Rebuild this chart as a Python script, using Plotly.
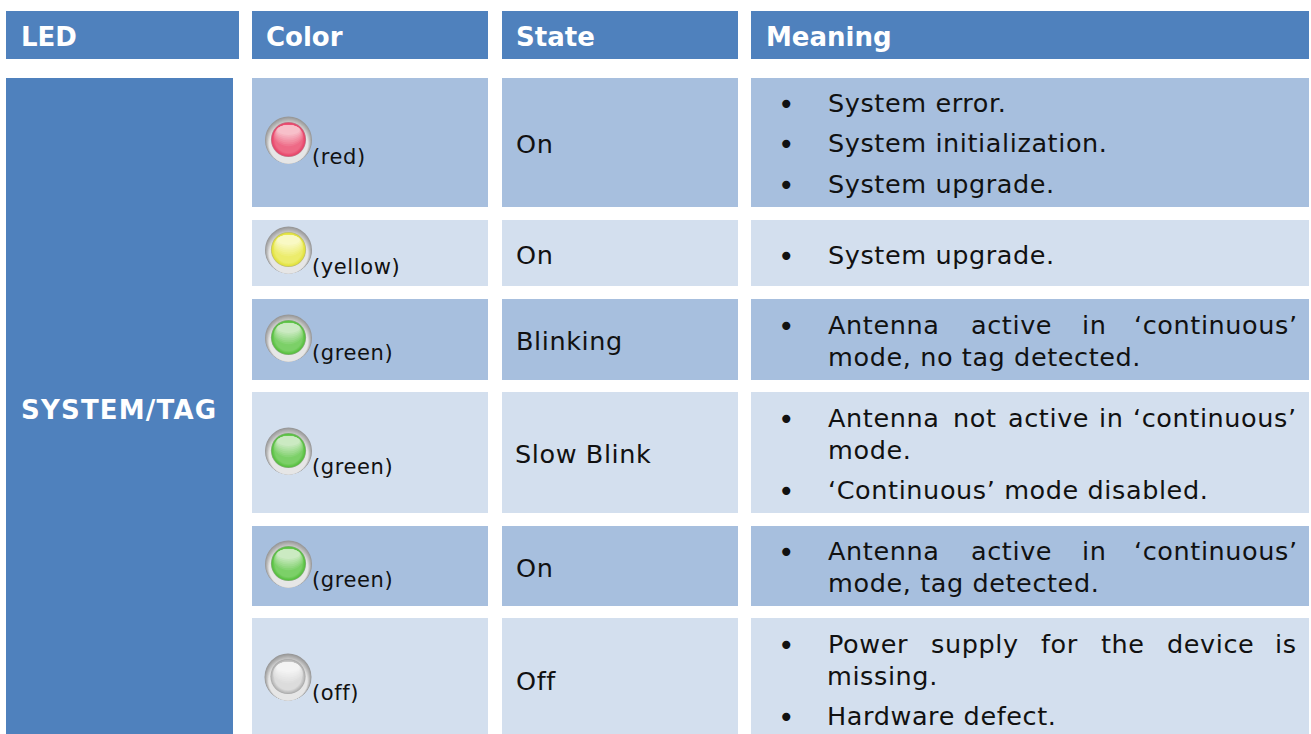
import plotly.graph_objects as go

BG_DARK = "#4F81BD"
BG_MID = "#A7BFDE"
BG_LIGHT = "#D3DFEE"
INK = "#111111"
FONT = "DejaVu Sans"

headers = ["LED", "Color", "State", "Meaning"]
group_label = "SYSTEM/TAG"
color_names = ["(red)", "(yellow)", "(green)", "(green)", "(green)", "(off)"]
states = ["On", "On", "Blinking", "Slow Blink", "On", "Off"]
meanings = [
    [["System error."], ["System initialization."], ["System upgrade."]],
    [["System upgrade."]],
    [["Antenna active in ‘continuous’", "mode, no tag detected."]],
    [["Antenna not active in ‘continuous’", "mode."], ["‘Continuous’ mode disabled."]],
    [["Antenna active in ‘continuous’", "mode, tag detected."]],
    [["Power supply for the device is", "missing."], ["Hardware defect."]],
]

# page geometry, in pixels
W, H = 1311, 734
head_y = (11, 59)
head_x = [(6, 239), (252, 488), (502, 738), (751, 1309)]
head_text_x = [21, 266, 516, 766]
led_x = (6, 233)
row_y = [(78, 207), (220, 286), (299, 380), (392, 513), (526, 606), (618, 734)]
row_fill = [BG_MID, BG_LIGHT, BG_MID, BG_LIGHT, BG_MID, BG_LIGHT]
state_x = [516, 516, 516, 515, 516, 516]
state_y = [144, 255, 341, 454, 568, 681]
lamp_xy = [(288.5, 140), (288.5, 250), (288.5, 338), (288.5, 451), (288.5, 564), (288, 677)]
name_xy = [(312, 157), (312, 267), (312, 353), (312, 467), (312, 580), (312, 693)]
line_y = [[[103], [143], [184]], [[255]], [[325, 357]], [[418, 450], [490]],
          [[551, 583]], [[644, 676], [716]]]
text_x = [828, 828, 828, 828, 828, 827]
bullet_x = 786
bullet_dy = 1.5
# start of each word on the justified first lines
word_x = {
    "Antenna active in ‘continuous’": [828, 971, 1082, 1134],
    "Antenna not active in ‘continuous’": [828, 953, 1008, 1099, 1133],
    "Power supply for the device is": [828, 931, 1041, 1101, 1167, 1275],
}
lamp_colors = {
    "red": ("#E8456A", "#EE6A86", "#F7C0CA"),
    "yellow": ("#E2E23C", "#ECEC6C", "#F9F9C4"),
    "green": ("#58C040", "#7CD068", "#CBEAC2"),
    "off": ("#B8B8B8", "#DCDCDC", "#F4F4F4"),
}
lamp_kind = ["red", "yellow", "green", "green", "green", "off"]

fig = go.Figure()
shapes, notes = [], []


def rect(x0, x1, y0, y1, fill):
    shapes.append(dict(type="rect", x0=x0, x1=x1, y0=y0, y1=y1,
                       fillcolor=fill, line_width=0, layer="below"))


def circle(cx, cy, rx, ry, fill):
    shapes.append(dict(type="circle", x0=cx - rx, x1=cx + rx, y0=cy - ry, y1=cy + ry,
                       fillcolor=fill, line_width=0, layer="below"))


def mix(c1, c2, t):
    a = [int(c1[i:i + 2], 16) for i in (1, 3, 5)]
    b = [int(c2[i:i + 2], 16) for i in (1, 3, 5)]
    return "#" + "".join(f"{round(p + (q - p) * t):02X}" for p, q in zip(a, b))


def text(x, y, s, size=25.5, color=INK, bold=False, anchor="left"):
    notes.append(dict(x=x, y=y, text=f"<b>{s}</b>" if bold else s, showarrow=False,
                      xanchor=anchor, yanchor="middle", align=anchor,
                      font=dict(family=FONT, size=size, color=color),
                      borderpad=0, borderwidth=0))


def lamp(cx, cy, kind):
    base, mid, glow = lamp_colors[kind]
    # bezel: dark band on top, pale at the bottom
    steps = 9
    for k in range(steps):
        t = k / (steps - 1)
        r = 23.5 - t * 4
        circle(cx, cy + t * 4, r, r, mix("#989898", "#E6E6E6", t))
    # body: soft edge into a saturated ball
    circle(cx, cy - 0.5, 17.6, 17.6, mix(base, "#A0A0A0", 0.55))
    for k in range(5):
        t = k / 4
        r = 16.8 - t * 3
        circle(cx, cy - 0.5, r, r, mix(base, mid, t))
    # highlight: pinned near the top edge, palest at the top
    top = cy - 15
    for k in range(8):
        t = k / 7
        ry = 11.5 - t * 6.5
        rx = 14.8 - t * 3.5
        circle(cx, top + ry, rx, ry, mix(mid, glow, t))


for (x0, x1), label, tx in zip(head_x, headers, head_text_x):
    rect(x0, x1, *head_y, BG_DARK)
    text(tx, 36.5, label, size=26, color="white", bold=True)

rect(*led_x, row_y[0][0], row_y[-1][1], BG_DARK)
text(21, 410, group_label, size=26, color="white", bold=True)

for i, (y0, y1) in enumerate(row_y):
    for x0, x1 in head_x[1:]:
        rect(x0, x1, y0, y1, row_fill[i])
    text(state_x[i], state_y[i], states[i])
    text(name_xy[i][0], name_xy[i][1], color_names[i], size=21)
    lamp(*lamp_xy[i], lamp_kind[i])

    for para, ys in zip(meanings[i], line_y[i]):
        text(bullet_x, ys[0] + bullet_dy, "•", size=28, anchor="center")
        for line, y in zip(para, ys):
            if line in word_x:
                for word, wx in zip(line.split(" "), word_x[line]):
                    text(wx, y, word)
            else:
                text(text_x[i], y, line)

fig.update_layout(
    width=W, height=H, margin=dict(l=0, r=0, t=0, b=0),
    paper_bgcolor="white", plot_bgcolor="white", showlegend=False,
    xaxis=dict(range=[0, W], visible=False, fixedrange=True),
    yaxis=dict(range=[H, 0], visible=False, fixedrange=True),
    shapes=shapes, annotations=notes,
)
post = """
document.body.style.margin='0';
document.documentElement.style.overflow='hidden';
document.querySelectorAll('.annotation-text').forEach(function(t){
  var s=t.textContent;
  if(s==='SYSTEM/TAG'){t.style.letterSpacing='1.2px';}
  else if(['LED','Color','State','Meaning','•'].indexOf(s)<0){t.style.letterSpacing='0.6px';}
});
"""
fig.write_html("out.html", config=dict(displayModeBar=False), post_script=post)
